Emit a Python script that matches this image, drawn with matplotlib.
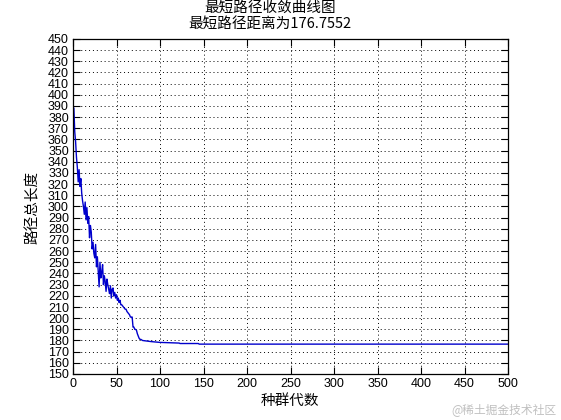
import matplotlib
matplotlib.use("Agg")
import matplotlib.pyplot as plt

plt.rcParams['font.family'] = ['Noto Sans CJK SC', 'DejaVu Sans']

title_line1 = "最短路径收敛曲线图"
title_line2 = "最短路径距离为176.7552"
xlabel = "种群代数"
ylabel = "路径总长度"
watermark = "@稀土掘金技术社区"

generations = [1, 2, 3, 4, 5, 6, 7, 8, 9, 10,
               11, 12, 13, 14, 15, 16, 17, 18, 19, 20,
               21, 22, 23, 24, 25, 26, 27, 28, 29, 30,
               31, 32, 33, 34, 35, 36, 37, 38, 39, 40,
               41, 42, 43, 44, 45, 46, 47, 48, 49, 50,
               51, 52, 53, 54, 55, 56, 57, 58, 59, 60,
               61, 62, 63, 64, 65, 66, 67, 68, 69, 70,
               71, 72, 73, 74, 75, 76, 77, 78, 80, 85,
               90, 100, 122, 123, 144, 145, 500]
shortest_length = [388, 367, 358, 344, 335, 322, 333, 318, 325, 312,
                   305, 300, 293, 304, 288, 299, 285, 291, 272, 283,
                   277, 262, 268, 258, 254, 266, 246, 255, 242, 228,
                   250, 236, 241, 248, 230, 238, 233, 224, 235, 230,
                   226, 222, 229, 218, 226, 227, 220, 223, 218, 221,
                   216, 218, 214, 216, 212, 212, 211, 210, 209, 208,
                   208, 206, 205, 204, 203, 201, 201, 201, 192, 192,
                   190, 190, 189, 186, 184, 182, 181, 181, 180, 179.5,
                   179, 178.3, 177.7, 177.3, 177.3, 176.7552, 176.7552]

x_ticks = list(range(0, 501, 50))
y_ticks = list(range(150, 451, 10))

fig = plt.figure(figsize=(5.61, 4.20), dpi=100)
ax = fig.add_axes([73/561, 46/420, 435/561, 335/420])

ax.plot(generations, shortest_length, color=(0.0, 0.0, 0.8), linewidth=1.0)

ax.set_xlim(0, 500)
ax.set_ylim(150, 450)
ax.set_xticks(x_ticks)
ax.set_yticks(y_ticks)
tick_font = dict(family='Liberation Sans', size=9)
ax.set_xticklabels([str(v) for v in x_ticks], **tick_font)
ax.set_yticklabels([str(v) for v in y_ticks], **tick_font)
ax.tick_params(direction='in', length=5, width=0.8, top=True, right=True,
               pad=3, colors='black')
ax.grid(True, linestyle=(0, (1, 3)), color='black', linewidth=0.7)
for s in ax.spines.values():
    s.set_linewidth(0.9)

fig.text(270/561, 1 - 8/420, title_line1, ha='center', va='center', fontsize=10.5)
fig.text(270/561, 1 - 24/420, title_line2, ha='center', va='center', fontsize=10.5)
fig.text(33/561, 1 - 207/420, ylabel, ha='center', va='center', rotation=90, fontsize=10.5)
fig.text(290/561, 1 - 401/420, xlabel, ha='center', va='center', fontsize=10.5)
fig.text(556/561, 1 - 410/420, watermark, ha='right', va='center', fontsize=8.5,
         color='#c0c0c0')

fig.savefig("out.png", dpi=100)
